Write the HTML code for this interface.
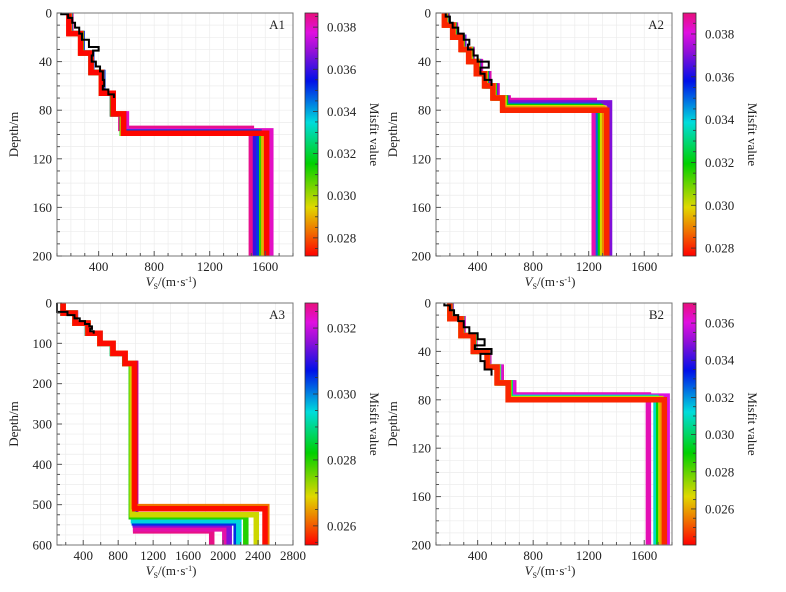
<!DOCTYPE html>
<html><head><meta charset="utf-8"><style>
html,body{margin:0;padding:0;background:#fff;}
svg{display:block;font-family:"Liberation Serif",serif;}
</style></head><body>
<svg id="fig" width="786" height="592" viewBox="0 0 786 592" xmlns="http://www.w3.org/2000/svg">
<defs>
<linearGradient id="cmap" x1="0" y1="1" x2="0" y2="0">
<stop offset="0" stop-color="#ff0000"/><stop offset="0.1" stop-color="#f07000"/><stop offset="0.2" stop-color="#e0d800"/>
<stop offset="0.38" stop-color="#00d000"/><stop offset="0.55" stop-color="#00dcdc"/><stop offset="0.72" stop-color="#0010e8"/>
<stop offset="0.84" stop-color="#9010d8"/><stop offset="0.92" stop-color="#e010e0"/><stop offset="1" stop-color="#e8107c"/>
</linearGradient>
</defs>
</svg>
<script>
// ---------- A1 data ----------
const a1Misfit=[0.0385,0.0380,0.0360,0.0350,0.0310,0.0290,0.0272];
const a1LayerBottoms=[17,33,49,66,83];
const a1HalfTop=[95,97,98,98,99,99,99];
const a1HalfVel=[1500,1640,1530,1555,1575,1590,1610];
const a1Vel=[[200,280,345,420,500,560],[195,275,350,425,505,600],[195,280,345,425,500,580],[195,280,350,430,505,575],[190,275,345,420,500,570],[190,270,345,420,505,575],[185,270,345,420,505,580]];
const a1ObsBottoms=[1,4,8,12,17,22,28,31,35,40,44,48,55,60,63,67,70];
const a1ObsVel=[130,180,210,230,260,280,330,400,360,350,380,410,430,440,430,470,510];
// ---------- A2 data ----------
const a2Misfit=[0.0385,0.0370,0.0350,0.0320,0.0300,0.0290,0.0280];
const a2LayerBottoms=[10,20,30,40,50,60,70];
const a2HalfTop=[72,74,76,77,78,79,80];
const a2HalfVel=[1240,1350,1270,1285,1300,1315,1330];
const a2Vel=[[180,240,300,360,420,480,540,620],[175,235,300,355,410,470,530,610],[170,230,290,350,400,460,520,590],[170,230,290,350,400,460,520,600],[165,225,285,345,395,455,515,590],[165,225,285,340,395,450,510,580],[160,220,280,335,390,450,510,580]];
const a2ObsBottoms=[3,8,12,17,22,26,30,35,40,45,50,55,60];
const a2ObsVel=[170,200,220,260,300,340,330,370,400,480,420,450,500];
// ---------- A3 data ----------
const a3Misfit=[0.0327,0.0325,0.0315,0.0305,0.0295,0.0280,0.0270,0.0262,0.0255];
const a3LayerBottoms=[25,50,75,100,125,150];
const a3HalfTop=[565,560,550,545,540,530,525,505,510];
const a3HalfVel=[1870,2020,2070,2150,2180,2260,2380,2500,2480];
const a3Vel=[[170,310,450,590,740,880,1000],[170,310,450,590,740,880,1000],[170,310,450,590,740,880,995],[170,305,450,590,735,875,985],[170,305,450,590,735,875,975],[170,305,450,590,735,875,950],[170,305,455,590,740,880,960],[170,305,455,590,740,880,980],[170,306,455,592,740,878,990]];
const a3ObsBottoms=[22,30,38,45,52,58,64,70,76];
const a3ObsVel=[100,220,300,360,420,470,500,480,520];
// ---------- B2 data ----------
const b2Misfit=[0.0365,0.0360,0.0310,0.0290,0.0270,0.0260,0.0245];
const b2LayerBottoms=[13,27,40,53,66];
const b2HalfTop=[76,77,78,79,79,80,80];
const b2HalfVel=[1630,1765,1685,1705,1720,1730,1745];
const b2Vel=[[210,295,380,480,570,660],[205,290,375,475,560,650],[205,285,375,470,550,635],[200,285,370,470,545,630],[200,280,370,470,545,625],[200,280,370,468,540,620],[200,280,368,468,540,620]];
const b2ObsBottoms=[2,6,10,15,20,25,30,35,38,42,48,55,60];
const b2ObsVel=[160,200,230,260,300,340,400,450,380,500,420,450,500];

const NS="http://www.w3.org/2000/svg";
const svg=document.getElementById('fig');
function mk(tag,attrs,parent){const e=document.createElementNS(NS,tag);for(const k in attrs)e.setAttribute(k,attrs[k]);(parent||svg).appendChild(e);return e;}
const stops=[[0,[255,0,0]],[0.1,[240,112,0]],[0.2,[224,216,0]],[0.38,[0,208,0]],[0.55,[0,220,220]],[0.72,[0,16,232]],[0.84,[144,16,216]],[0.92,[224,16,224]],[1,[232,16,124]]];
function cmap(t){t=Math.max(0,Math.min(1,t));for(let i=1;i<stops.length;i++){if(t<=stops[i][0]){const a=stops[i-1],b=stops[i];const f=(t-a[0])/(b[0]-a[0]);return 'rgb('+a[1].map((v,j)=>Math.round(v+(b[1][j]-v)*f)).join(',')+')';}}return 'rgb(232,16,124)';}

function panel(p){
  const g=mk('g',{});
  
  
  const X=v=>p.x0+(v-p.xmin)/(p.xmax-p.xmin)*(p.x1-p.x0);
  const Y=d=>p.y0+d/p.dmax*(p.y1-p.y0);
  const grid=mk('g',{stroke:'#ececec','stroke-width':0.7},g);
  
  
  for(let v=Math.ceil(p.xmin/p.xg)*p.xg;v<p.xmax;v+=p.xg)mk('line',{x1:X(v),x2:X(v),y1:p.y0,y2:p.y1},grid);
  for(let d=p.yg;d<p.dmax;d+=p.yg)mk('line',{x1:p.x0,x2:p.x1,y1:Y(d),y2:Y(d)},grid);
  const idx=p.misfit.map((m,i)=>i).sort((a,b)=>p.misfit[b]-p.misfit[a]);
  const cg=mk('g',{fill:'none','stroke-width':5.5,'stroke-linejoin':'miter'},g);
  idx.forEach(i=>{
    const t=(p.misfit[i]-p.cmin)/(p.cmax-p.cmin);
    const bottoms=p.bottoms.concat([p.halfTop[i]]);
    const vel=p.vel[i];
    let pts=[],top=0;
    for(let k=0;k<vel.length;k++){pts.push([X(vel[k]),Y(top)]);pts.push([X(vel[k]),Y(bottoms[k])]);top=bottoms[k];}
    pts.push([X(p.halfVel[i]),Y(top)]);pts.push([X(p.halfVel[i]),Y(p.dmax)]);
    const pl=mk('polyline',{points:pts.map(q=>q.join(',')).join(' '),stroke:cmap(t)},cg);
    
    
  });
  let pts=[],top=0;
  for(let k=0;k<p.obsVel.length;k++){pts.push([X(p.obsVel[k]),Y(top)]);pts.push([X(p.obsVel[k]),Y(p.obsBottoms[k])]);top=p.obsBottoms[k];}
  const ob=mk('polyline',{points:pts.map(q=>q.join(',')).join(' '),stroke:'#000','stroke-width':2,fill:'none'},g);
  
  
  const fr=mk('rect',{x:p.x0,y:p.y0,width:p.x1-p.x0,height:p.y1-p.y0,fill:'none',stroke:'#777','stroke-width':1},g);
  
  
  for(let d=0;d<=p.dmax;d+=p.yg){mk('line',{x1:p.x0,x2:p.x0+(d%p.ylab===0?5:3),y1:Y(d),y2:Y(d),stroke:'#555'},g);}
  p.yticks.forEach(d=>{const t=mk('text',{x:p.x0-5,y:Y(d)+4.5,'text-anchor':'end','font-size':13,fill:'#222'},g);t.textContent=d;
    });
  for(let v=Math.ceil(p.xmin/p.xg)*p.xg;v<=p.xmax;v+=p.xg){mk('line',{x1:X(v),x2:X(v),y1:p.y1,y2:p.y1-(v%p.xlab===0?5:3),stroke:'#555'},g);}
  p.xticks.forEach(v=>{const t=mk('text',{x:X(v),y:p.y1+15,'text-anchor':'middle','font-size':13,fill:'#222'},g);t.textContent=v;
    });
  const yt=mk('text',{x:0,y:0,transform:'translate('+(p.x0-39)+','+((p.y0+p.y1)/2)+') rotate(-90)','text-anchor':'middle','font-size':13,fill:'#222'},g);
  yt.textContent='Depth/m';
  const xt=mk('text',{x:(p.x0+p.x1)/2-4,y:p.y1+30,'text-anchor':'middle','font-size':13,fill:'#222'},g);
  xt.innerHTML='<tspan font-style="italic">V</tspan><tspan font-size="8" dy="3">S</tspan><tspan dy="-3">/(m·s</tspan><tspan font-size="8" dy="-4">-1</tspan><tspan dy="4">)</tspan>';
  
  const lb=mk('text',{x:p.x1-8,y:p.y0+16,'text-anchor':'end','font-size':13,fill:'#222'},g);
  lb.textContent=p.label;
  const cb=mk('rect',{x:p.cbx,y:p.y0,width:13,height:p.y1-p.y0,fill:'url(#cmap)',stroke:'#333','stroke-width':0.8},g);
  
  const CY=m=>p.y1-(m-p.cmin)/(p.cmax-p.cmin)*(p.y1-p.y0);
  for(let m=Math.ceil(p.cmin/0.0005)*0.0005;m<=p.cmax;m+=0.0005){const major=Math.abs(m/p.cstep-Math.round(m/p.cstep))<1e-6;
    mk('line',{x1:p.cbx+13,x2:p.cbx+13-(major?5:3),y1:CY(m),y2:CY(m),stroke:'#333','stroke-width':0.8},g);}
  p.cticks.forEach(m=>{const t=mk('text',{x:p.cbx+22,y:CY(m)+4.5,'font-size':13,fill:'#222'},g);t.textContent=m.toFixed(3);
    });
  const ct=mk('text',{x:0,y:0,transform:'translate('+(p.cbx+65)+','+((p.y0+p.y1)/2)+') rotate(90)','text-anchor':'middle','font-size':13,fill:'#222'},g);
  ct.textContent='Misfit value';
}
const tk200=[0,40,80,120,160,200];
panel({name:'a1',label:'A1',x0:57,x1:293,y0:13,y1:256,xmin:100,xmax:1800,dmax:200,xg:100,yg:10,ylab:40,xlab:400,xticks:[400,800,1200,1600],yticks:tk200,
  misfit:a1Misfit,bottoms:a1LayerBottoms,halfTop:a1HalfTop,halfVel:a1HalfVel,vel:a1Vel,obsBottoms:a1ObsBottoms,obsVel:a1ObsVel,
  cbx:305,cmin:0.02714,cmax:0.03867,cstep:0.002,cticks:[0.028,0.030,0.032,0.034,0.036,0.038]});
panel({name:'a2',label:'A2',x0:436,x1:672,y0:13,y1:256,xmin:100,xmax:1800,dmax:200,xg:100,yg:10,ylab:40,xlab:400,xticks:[400,800,1200,1600],yticks:tk200,
  misfit:a2Misfit,bottoms:a2LayerBottoms,halfTop:a2HalfTop,halfVel:a2HalfVel,vel:a2Vel,obsBottoms:a2ObsBottoms,obsVel:a2ObsVel,
  cbx:683,cmin:0.02763,cmax:0.03898,cstep:0.002,cticks:[0.028,0.030,0.032,0.034,0.036,0.038]});
panel({name:'a3',label:'A3',x0:57,x1:293,y0:303,y1:545,xmin:100,xmax:2800,dmax:600,xg:200,yg:25,ylab:100,xlab:400,xticks:[400,800,1200,1600,2000,2400,2800],yticks:[0,100,200,300,400,500,600],
  misfit:a3Misfit,bottoms:a3LayerBottoms,halfTop:a3HalfTop,halfVel:a3HalfVel,vel:a3Vel,obsBottoms:a3ObsBottoms,obsVel:a3ObsVel,
  cbx:305,cmin:0.02542,cmax:0.03276,cstep:0.002,cticks:[0.026,0.028,0.030,0.032]});
panel({name:'b2',label:'B2',x0:436,x1:672,y0:303,y1:545,xmin:100,xmax:1800,dmax:200,xg:100,yg:10,ylab:40,xlab:400,xticks:[400,800,1200,1600],yticks:tk200,
  misfit:b2Misfit,bottoms:b2LayerBottoms,halfTop:b2HalfTop,halfVel:b2HalfVel,vel:b2Vel,obsBottoms:b2ObsBottoms,obsVel:b2ObsVel,
  cbx:683,cmin:0.02406,cmax:0.03708,cstep:0.002,cticks:[0.026,0.028,0.030,0.032,0.034,0.036]});
</script>
</body></html>
